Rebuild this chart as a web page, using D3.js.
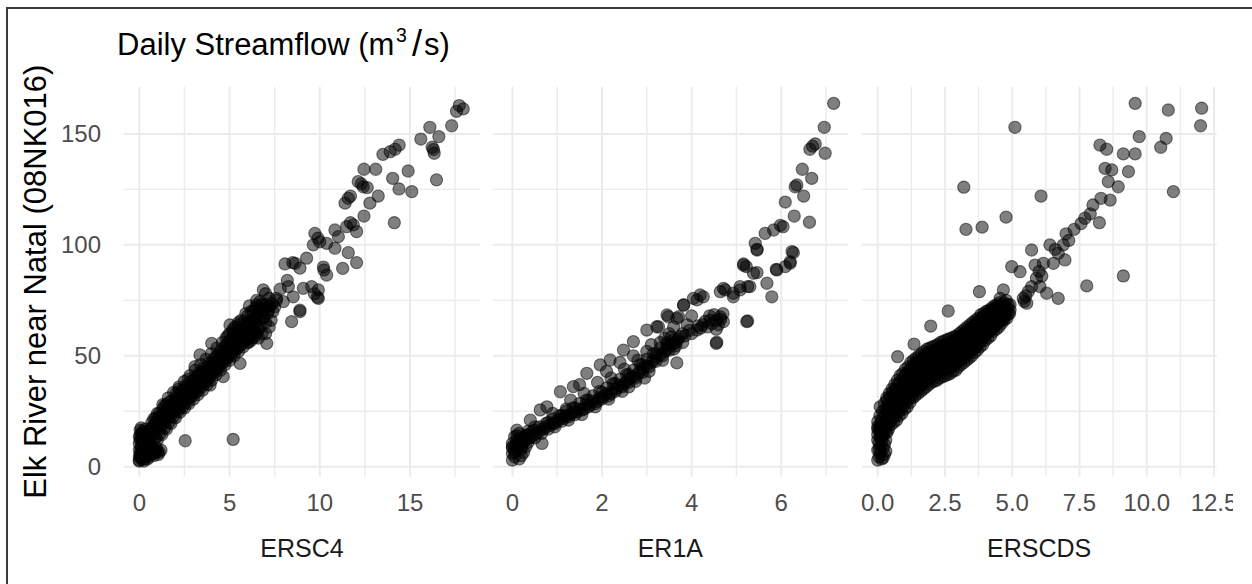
<!DOCTYPE html>
<html>
<head>
<meta charset="utf-8">
<script src="https://cdn.jsdelivr.net/npm/d3@7"></script>
<style>
  html, body { margin: 0; padding: 0; background: #fff; }
  svg { display: block; }
  text { font-family: "Liberation Sans", Arial, Helvetica, sans-serif; }
</style>
</head>
<body>
<svg id="chart" width="1252" height="584"></svg>
<script>
// Daily streamflow at three stations (x) vs. Elk River near Natal (y), m3/s
const ersc4 = [
  // low-flow cluster
  [0,3],[0,4.5],[0.05,6],[0,7.5],[0.1,9],[0,10.5],[0.05,12],[0,13.5],[0.1,15],[0.05,16.5],
  [0.15,4],[0.2,5.5],[0.2,7],[0.25,9],[0.2,11],[0.3,13],[0.25,15],[0.35,17],[0.4,5],[0.5,6],
  [0.6,5.5],[0.75,6],[0.9,6.5],[1.0,7],[0.45,8],[0.55,10],[0.4,12],[0.6,14],[0.5,16],[0.15,3.5],
  [0.3,3.5],[0.1,17.5],[0.7,8],[0.87,12.8],[1.1,6.5],[1.2,7.5],[0.95,8.5],
  [0.05,5],[0.1,8],[0.15,11],[0.05,14],[0.2,16],[0.3,5],[0.35,7],[0.4,10],[0.3,11],[0.45,14],
  [0.55,4.5],[0.65,7],[0.8,5],[0.85,7.5],[1.05,5.5],[0.25,2.5],[0,2.5],[0.1,4],[0.35,12],
  [0.15,13],[0.45,3.5],[0.6,9],
  // main band
  [0.6,12],[0.65,17],[0.7,20],[0.8,15],[0.85,19],[0.9,22],[1.0,16],[1.05,20],[1.1,24],
  [1.2,18],[1.25,22],[1.3,26],[1.4,20],[1.45,24],[1.5,28],[1.6,22],[1.7,26],[1.75,29.5],
  [1.85,24],[1.9,28],[2.0,31],[2.1,26],[2.15,29.5],[2.25,33],[2.35,28],[2.4,31.5],[2.5,35],
  [2.6,30],[2.65,33.5],[2.75,36.5],[2.85,32],[2.9,35.5],[3.0,39],[3.1,34],[3.15,37.5],[3.25,41],
  [3.35,36],[3.4,39.5],[3.5,43],[3.6,38],[3.65,41.5],[3.75,45],[3.85,40.5],[3.9,44],[4.0,47],
  [4.1,43],[4.15,46.5],[4.25,49.5],[4.35,45],[4.4,48.5],[4.5,52],[4.6,47],[4.65,50.5],[4.75,54],
  [4.85,49],[4.9,53],[5.0,56.5],[5.1,51],[5.15,55],[5.25,58.5],[5.35,53],[5.4,57],[5.5,60.5],
  [5.6,55],[5.7,59],[5.75,62.5],[5.85,57],[5.9,61],[6.0,64.5],[6.1,59],[6.2,63],[6.3,66],
  [6.4,61],[6.5,65],[6.55,68.5],[6.7,63],[6.8,67],[6.9,71],[7.0,65],[7.1,69],[7.2,72.5],
  [0.7,14],[0.75,18],[0.8,21.5],[0.95,17.5],[1.0,21],[1.15,19.5],[1.15,23],[1.3,21],[1.35,24.5],
  [1.4,27.5],[1.55,23],[1.55,26.5],[1.65,29],[1.75,24.5],[1.8,28],[1.95,26],[2.0,29.5],[2.05,33],
  [2.2,28],[2.3,31],[2.35,34.5],[2.45,30],[2.55,33],[2.6,36.5],[2.7,32],[2.8,35],[2.85,38.5],
  [2.95,34],[3.05,37],[3.1,40.5],[3.2,36],[3.3,39],[3.35,42.5],[3.45,38],[3.55,41],[3.6,44.5],
  [3.7,40],[3.8,43],[3.85,46.5],[3.95,42],[4.05,45],[4.1,48.5],[4.2,44],[4.3,47],[4.35,50.5],
  [4.45,46.5],[4.55,49.5],[4.6,53],[4.7,48.5],[4.8,52],[4.85,55.5],[4.95,51],[5.05,54],[5.1,57.5],
  [5.2,53],[5.3,56],[5.35,59.5],[5.45,55],[5.55,58],[5.6,61.5],[5.7,56.5],[5.8,60],[5.85,63.5],
  [5.95,59],[6.05,62],[6.15,65.5],[6.25,61],[6.35,64],[6.45,67.5],[6.6,66],[6.75,69.5],[6.9,67],
  [7.0,73],[7.15,70.5],[6.45,71.5],[6.7,74.5],[7.35,73.5],[7.5,72],[5.65,66],[5.3,63],[5.0,60],
  [6.05,56],[6.6,58],[7.2,63],
  [1.0,12],[1.25,14.5],[1.5,17],[1.75,19.5],[2.0,22],[2.25,24.5],[2.5,26.5],[2.75,28.5],
  [3.0,30.5],[3.25,32.5],[3.5,34.5],[3.75,37],[4.0,39],[4.25,41.5],[4.5,43.5],[4.75,46],
  [5.0,48],[5.25,50],[5.5,52],[5.75,54],[6.0,56],[6.25,58],[6.5,60],[0.9,13],[1.15,15],
  [1.4,17.5],[1.65,20],[1.9,22.5],[2.15,25],[2.4,27],[2.65,29],[2.9,31.5],[3.15,33.5],
  [3.4,35.5],[3.65,38],[3.9,40],[4.15,42.5],[4.4,44.5],[4.65,47],[4.9,49],[5.15,51],[5.4,53],
  [5.65,55],[5.9,57],[6.15,59],
  [1.0,24],[1.3,28],[1.6,31],[1.9,33.5],[2.2,36],[2.5,38.5],[2.8,41],[3.1,43.5],[3.4,46],
  [3.7,48.5],[4.0,51],[4.3,53.5],[4.6,56],[4.9,59],[5.2,62],[5.5,65],
  [6.3,70],[6.6,72],[6.0,68],[5.8,65.5],[5.5,64],[5.2,61],[4.8,58],[6.8,60],[6.2,57],[7.4,70],
  [7.6,75],[7.3,66],[6.2,70],[6.5,75],[6.8,73],[7.2,76],[6.1,72.5],[6.6,62],[7.0,60],[6.4,58.5],
  [5.9,69],[5.58,46.6],[4.65,40.6],[3.92,36.8],[7.06,55.6],[5.02,63.9],[4.01,55.6],[3.36,50.4],
  [3.08,45.1],[2.54,11.7],[5.2,12.3],[2.7,39.5],[2.2,35],
  // high flows
  [17.73,162.8],[17.95,161.3],[17.58,160.2],[17.31,153.7],[16.1,153],[16.6,148.8],[15.6,147.7],
  [16.23,144],[16.34,141.3],[16.3,143],[16.47,129.3],[14.4,145],[14.17,143.1],[13.5,140.8],
  [13.9,142],[14.9,133.3],[14.04,130],[14.39,125.2],[15.1,124],[14.13,110],[12.45,134.1],
  [13.1,134.1],[12.13,128.5],[12.41,126.2],[12.63,125.8],[12.3,127.5],[13.24,122],[12.78,118.8],
  [11.58,121],[11.4,118.8],[11.7,122],[12.45,113],[11.86,109],[11.49,108.2],[10.84,106.7],
  [11.03,103.7],[12.04,106],[11.7,110],[9.73,105.2],[9.64,100],[10.0,101.4],[10.38,100.7],
  [10.84,98.5],[9.9,103],[11.58,96.5],[12.04,92],[11.27,89.4],[10.23,88.7],[10.38,86.4],
  [10.2,90],[9.27,94],[8.63,91.7],[8.07,91.4],[8.9,89.5],[8.5,92],[9.09,80.4],[9.55,81.2],
  [9.92,79.7],[9.92,75.9],[9.7,78],[8.26,81.2],[8.53,76.6],[8.9,70.6],[8.44,65.4],[8.9,69.9],
  [9.87,76.4],[6.87,79.7],[7.6,75.9],[7.98,74.4],[7.24,72.1],[6.68,70.6],[6.32,66.1],[7.0,78],
  [6.5,73],[7.8,80],[8.2,84]
];

const er1a = [
  // low-flow cluster
  [0,3],[0.05,4.5],[0,6],[0.1,7.5],[0.05,9],[0,10.5],[0.1,12],[0.05,13.5],[0.15,15],[0.1,16.5],
  [0.2,5],[0.2,8],[0.25,11],[0.3,14],[0.2,13],[0.15,3.5],[0.3,9],[0,9],[0,8.5],[0.35,16],
  [0.4,13.5],[0.66,10.5],[0.05,6.5],[0.15,10],[0.1,14],[0.25,6.5],
  // lower band
  [0.25,11.3],[0.54,15.1],[0.84,18.8],[1.14,21.8],[1.44,24.8],[1.73,27.8],[2.03,31.6],
  [2.33,35.3],[2.63,39.9],[2.92,44.4],[3.22,49.6],[3.52,54.9],[3.74,58.6],
  [0.4,13],[0.7,17],[1.0,20.5],[1.3,23.5],[1.6,26],[1.9,29.5],[2.2,33],[2.5,37.5],[2.8,42],
  [3.1,47],[3.4,52],[3.65,56],[0.5,16.5],[0.8,20],[1.1,23],[1.4,26.5],[1.7,30],[2.0,33.5],
  [2.3,37.5],[2.6,41.5],[2.9,46],[3.2,51],[3.45,55],[3.6,57],[0.35,14.5],[0.95,18],[1.25,21],
  [1.55,23.5],[1.85,27],[2.15,30.5],[2.45,34],[2.75,38.5],[3.05,43],[3.35,48],[3.6,53],
  [0.1,9.5],[0.2,11],[0.3,12.5],[0.45,14],[0.6,16],[0.75,18],[0.9,19.5],[1.05,21.5],[1.2,23],
  [1.35,24.5],[1.5,26],[1.65,28],[1.8,29.5],[1.95,31],[2.1,33],[2.25,35],[2.4,36.5],[2.55,38.5],
  [2.7,40.5],[2.85,43],[3.0,45.5],[3.15,48],[3.3,50.5],[3.45,53],[3.6,55.5],[3.7,57.5],
  [0.15,12],[0.3,14],[0.45,16],[0.6,18],[0.75,19.5],[0.9,21.5],[1.05,23],[1.2,25],[1.35,26.5],
  [1.5,28.5],[1.65,30],[1.8,32],[1.95,34],[2.1,35.5],[2.25,37.5],[2.4,39.5],[2.55,41.5],
  [2.7,43.5],[2.85,46],[3.0,48.5],[3.15,51],[3.3,53.5],[3.45,56],[3.55,58.5],
  [0.2,9],[0.35,11],[0.5,13],[0.65,15],[0.8,17],[0.95,19.5],[1.1,20.5],[1.25,22.5],[1.4,23.5],
  [1.55,25.5],[1.7,27],[1.85,28.5],[2.0,30.5],[2.15,32],[2.3,34],[2.45,36],[2.6,38],[2.75,40],
  [2.9,42.5],[3.05,45],[3.2,47.5],[3.35,50],[3.5,52.5],[3.65,54.5],
  [4.12,61.6],[4.41,66.1],[4.64,67.6],[4.71,65.4],[4.35,63],[4.5,68.5],[4.6,64],[4.3,65.5],
  [4.2,62.5],[4.55,62],[4.0,60],[3.85,59],[4.25,64],[4.45,64.5],[4.65,66.5],[4.4,68],
  [4.55,66],[4.15,63.5],[3.95,61.5],[3.8,60],[4.7,69],
  // upper band
  [1.07,33.8],[1.36,36.1],[1.66,42.1],[1.96,45.9],[2.18,48.1],[2.48,52.6],[2.7,56.4],
  [3.0,61.6],[3.22,63.1],[3.45,68.4],[3.71,67.6],[3.82,72.9],[4.12,75.2],[4.26,76.6],
  [4.71,80.4],[4.93,78.2],[5.08,81.2],[0.77,27],[0.62,25.6],[0.4,21],
  [1.3,30],[1.6,33],[1.9,38],[2.2,40],[2.5,44],[2.8,48],[3.0,52],[3.3,56],[3.5,60],
  [2.1,43],[2.4,47],[2.7,50],[3.1,55],[3.4,58],[1.5,37],[1.2,26],[0.9,24],[0.5,18],
  [3.9,64],[4.0,68],[3.6,63],[2.95,40],[3.8,56],[2.6,36],
  // high flows
  [7.17,163.8],[6.96,153],[6.76,145.5],[6.64,143.1],[6.7,144.5],[6.98,141.3],[6.47,134.1],
  [6.68,130],[6.31,126.2],[6.35,127],[6.5,122],[6.09,119.3],[6.29,113],[6.63,110.2],
  [6.04,108.2],[5.98,108.8],[5.83,106.7],[5.64,105.2],[5.42,100.7],[5.46,98],[6.24,97],
  [6.2,92.4],[6.09,90.2],[5.89,89],[5.16,91.4],[5.22,90.2],[5.46,87.5],[5.68,82.7],[5.79,76.6],
  [5.25,81.2],[5.08,79.7],[4.93,76.6],[4.75,79.7],[4.64,78.9],[5.25,65.7],[4.56,56.1],
  [4.19,77.4],[4.04,75.9],[3.82,72.9],[3.67,66.9],[3.48,67.6],[3.26,63.1],[3.67,46.8],
  [4.55,55.6],[5.23,65.4],[5.9,88.7],[6.2,91.7],[6.27,96.5],[5.46,97.7],[5.16,90.8],
  [5.38,87.2],[5.3,81.2]
];

const erscds = [
  // low-flow cluster
  [0,3],[0.05,4.5],[0.1,6],[0,7.5],[0.1,9],[0.05,10.5],[0,12],[0.1,13.5],[0.15,15],[0.05,16.5],
  [0.2,4],[0.25,5.5],[0.3,7],[0.2,8.5],[0.25,10],[0.3,12],[0.2,14],[0,18],[0.1,19.5],[0,17],
  [0.15,3.5],[0.35,15.5],[0.3,18],[0,20.3],[0.09,27],[0.05,8],[0.15,11.5],[0.1,17],[0,14.5],
  // main band
  [0.1,13],[0.12,18],[0.08,23],[0.2,14],[0.22,19.5],[0.18,25],[0.3,16],[0.32,21],[0.28,26],
  [0.33,31],[0.4,17],[0.42,23],[0.38,28],[0.43,33],[0.5,19],[0.52,25],[0.48,30],[0.53,35],
  [0.6,20],[0.62,26],[0.58,32],[0.63,37],[0.7,21],[0.72,27],[0.68,33],[0.73,39],[0.8,23],
  [0.82,29],[0.78,35],[0.83,41],[0.9,24],[0.92,30],[0.88,36],[0.93,42],[1.0,26],[1.02,32],
  [0.98,38],[1.03,44],[1.1,27],[1.12,33],[1.08,39],[1.13,45],[1.2,29],[1.22,35],[1.18,41],
  [1.23,47],[1.3,31],[1.32,37],[1.28,43],[1.33,48],[1.4,32],[1.42,38],[1.38,44],[1.43,49],
  [1.5,33],[1.52,39],[1.48,45],[1.53,50],[1.6,34],[1.62,40],[1.58,46],[1.63,51],[1.7,35],
  [1.72,41],[1.68,47],[1.73,52],[1.8,36],[1.82,42],[1.78,48],[1.83,53],[1.9,37],[1.92,43],
  [1.88,48.5],[1.93,53.5],[2.0,38],[2.02,43.5],[1.98,49],[2.03,54],[2.1,38.5],[2.12,44],
  [2.08,49.5],[2.13,54.5],[2.2,39],[2.22,44.5],[2.18,50],[2.23,55],[2.3,40],[2.32,45.5],
  [2.28,51],[2.33,56],[2.4,40.5],[2.42,46],[2.38,51.5],[2.43,56.5],[2.5,41],[2.52,46.5],
  [2.48,52],[2.53,57],[2.6,41.5],[2.62,47],[2.58,52.5],[2.63,57.5],[2.7,42],[2.72,47.5],
  [2.68,53],[2.73,58],[2.8,43],[2.82,48],[2.78,53.5],[2.83,58.5],[2.9,43.5],[2.92,49],
  [2.88,54.5],[2.93,59],[3.0,45],[3.02,50],[2.98,55],[3.03,60],[3.1,46],[3.12,51],[3.08,56],
  [3.13,61],[3.2,47],[3.22,52],[3.18,57],[3.23,62],[3.3,48],[3.32,53],[3.28,58],[3.33,63],
  [3.4,49],[3.42,54],[3.38,59],[3.43,64],[3.5,50],[3.52,55],[3.48,60],[3.53,65],[3.6,51.5],
  [3.62,56.5],[3.58,61.5],[3.63,66],[3.7,52.5],[3.72,57.5],[3.68,62.5],[3.73,67],[3.8,54],
  [3.82,59],[3.78,64],[3.83,68.5],[3.9,55],[3.92,60],[3.88,65],[3.93,69],[4.0,57],[4.02,61.5],
  [3.98,66],[4.03,70],[4.1,58],[4.12,62.5],[4.08,67],[4.13,70.5],[4.2,59],[4.22,63.5],
  [4.18,68],[4.23,71.5],[4.3,61],[4.32,65],[4.28,69],[4.33,72.5],[4.4,62],[4.42,66],[4.38,70],
  [4.43,73],[4.5,63],[4.52,67],[4.48,71],[4.53,74],[4.6,64.5],[4.62,68.5],[4.58,72.5],
  [4.7,66],[4.72,70],[4.68,74],[4.8,67],[4.82,71],[4.78,75],[4.9,69],[4.92,73],
  [0.15,16],[0.15,21.5],[0.25,17.5],[0.25,23],[0.25,28.5],[0.35,19],[0.35,25],[0.35,30],
  [0.45,20],[0.45,26],[0.45,31.5],[0.55,22],[0.55,28],[0.55,33.5],[0.65,23],[0.65,29.5],
  [0.65,35],[0.75,24.5],[0.75,31],[0.75,37],[0.85,26],[0.85,32.5],[0.85,38.5],[0.95,27.5],
  [0.95,34],[0.95,40],[1.05,29],[1.05,35.5],[1.05,41.5],[1.15,30.5],[1.15,37],[1.15,43],
  [1.25,32],[1.25,38.5],[1.25,44.5],[1.35,34],[1.35,40.5],[1.35,46],[1.45,35],[1.45,41.5],
  [1.45,47],[1.55,36],[1.55,42.5],[1.55,48],[1.65,37],[1.65,43.5],[1.65,49],[1.75,38],
  [1.75,44.5],[1.75,50],[1.85,39],[1.85,45],[1.85,51],[1.95,40],[1.95,46],[1.95,51.5],
  [2.05,41],[2.05,46.5],[2.05,52],[2.15,41.5],[2.15,47],[2.15,52.5],[2.25,42],[2.25,47.5],
  [2.25,53],[2.35,43],[2.35,48.5],[2.35,54],[2.45,43.5],[2.45,49],[2.45,54.5],[2.55,44],
  [2.55,49.5],[2.55,55],[2.65,44.5],[2.65,50],[2.65,55.5],[2.75,45],[2.75,50.5],[2.75,56],
  [2.85,46],[2.85,51],[2.85,56.5],[2.95,47],[2.95,52],[2.95,57.5],[3.05,48],[3.05,53],
  [3.05,58.5],[3.15,49],[3.15,54],[3.15,59.5],[3.25,50],[3.25,55],[3.25,60.5],[3.35,51],
  [3.35,56],[3.35,61.5],[3.45,52],[3.45,57],[3.45,62.5],[3.55,53],[3.55,58],[3.55,63.5],
  [3.65,54],[3.65,59],[3.65,64.5],[3.75,55.5],[3.75,60.5],[3.75,65.5],[3.85,57],[3.85,62],
  [3.85,67],[3.95,58.5],[3.95,63.5],[3.95,68],[4.05,60],[4.05,64.5],[4.05,68.5],[4.15,61],
  [4.15,65.5],[4.15,69.5],[4.25,62],[4.25,66.5],[4.25,70.5],[4.35,63.5],[4.35,67.5],
  [4.35,71.5],[4.45,64.5],[4.45,68.5],[4.45,72],[4.55,65.5],[4.55,69.5],[4.65,66.5],
  [4.65,71],[4.75,68],[4.75,72.5],[4.85,69],[4.85,73],
  // scattered above and beyond the band
  [0.74,49.6],[1.35,55.3],[1.97,63.4],[2.62,70.2],[3.78,78.9],[4.67,79.7],[4.55,75.9],
  [4.92,70.6],[5.5,77],[5.6,79],[5.45,74.5],[5.54,73.7],[5.41,75.9],[5.72,81.2],[6.03,81.2],
  [6.28,78.2],[6.71,75.9],[5.9,85],[6.0,88],[6.1,86],[4.98,90.2],[5.29,87.9],[5.85,90.9],
  [6.16,91.7],[6.53,91.7],[5.72,97.7],[6.71,96.2],[6.96,93.2],[7.77,81.5],[9.13,86],
  [6.6,98],[6.4,100],[6.9,100],[7.0,105],[7.1,102],[7.3,107],[7.56,109.6],[7.7,112],[8.24,110],
  [7.9,114],[8.0,118],[8.3,121],[6.07,122],[3.28,107],[3.88,108],[4.77,112.5],[3.2,126],
  [5.1,153],[8.64,120.2],[8.94,126.2],[8.57,128.5],[8.7,133.8],[8.45,134.5],[8.51,143.1],
  [8.26,145],[9.13,141],[9.57,141],[9.32,133],[9.72,148.8],[10.52,144],[10.72,148],
  [10.99,124],[9.57,163.8],[10.8,160.8],[12.04,161.6],[12.0,153.7]
];

const seriesData = [ersc4, er1a, erscds];
const panelNames = ["ERSC4", "ER1A", "ERSCDS"];
const xDomains = [[-0.85, 18.88], [-0.44, 7.49], [-0.595, 12.6]];
const xTicks = [[0, 5, 10, 15], [0, 2, 4, 6], [0, 2.5, 5, 7.5, 10, 12.5]];
const xTickLabels = [["0", "5", "10", "15"], ["0", "2", "4", "6"], ["0.0", "2.5", "5.0", "7.5", "10.0", "12.5"]];
const xMinor = [[2.5, 7.5, 12.5, 17.5], [1, 3, 5, 7], [1.25, 3.75, 6.25, 8.75, 11.25]];
const yDomain = [-4.5, 171.3];
const yTicks = [0, 50, 100, 150];
const yMinor = [25, 75, 125];
const yTitle = "Elk River near Natal (08NK016)";

const svg = d3.select("#chart");
const W = 1252, H = 584;
svg.append("rect").attr("width", W).attr("height", H).attr("fill", "#fff");

const panelX = [[124, 480], [492.7, 848], [861.7, 1216.7]];
const plotTop = 86.7, plotBottom = 476.7;

const y = d3.scaleLinear().domain(yDomain).range([plotBottom, plotTop]);
const gridCol = "#ebebeb";

seriesData.forEach((pts, i) => {
  const x = d3.scaleLinear().domain(xDomains[i]).range(panelX[i]);
  const g = svg.append("g");

  // minor then major grid
  g.selectAll(".ymin").data(yMinor).join("line")
    .attr("x1", panelX[i][0]).attr("x2", panelX[i][1])
    .attr("y1", d => y(d)).attr("y2", d => y(d))
    .attr("stroke", gridCol).attr("stroke-width", 1.4);
  g.selectAll(".xmin").data(xMinor[i]).join("line")
    .attr("x1", d => x(d)).attr("x2", d => x(d))
    .attr("y1", plotTop).attr("y2", plotBottom)
    .attr("stroke", gridCol).attr("stroke-width", 1.4);
  g.selectAll(".ymaj").data(yTicks).join("line")
    .attr("x1", panelX[i][0]).attr("x2", panelX[i][1])
    .attr("y1", d => y(d)).attr("y2", d => y(d))
    .attr("stroke", gridCol).attr("stroke-width", 2);
  g.selectAll(".xmaj").data(xTicks[i]).join("line")
    .attr("x1", d => x(d)).attr("x2", d => x(d))
    .attr("y1", plotTop).attr("y2", plotBottom)
    .attr("stroke", gridCol).attr("stroke-width", 2);

  // points
  g.selectAll("circle").data(pts).join("circle")
    .attr("cx", d => x(d[0])).attr("cy", d => y(d[1]))
    .attr("r", 6.1)
    .attr("fill", "#000").attr("fill-opacity", 0.5)
    .attr("stroke", "#000").attr("stroke-opacity", 0.5).attr("stroke-width", 1.1);

  // x tick labels
  g.selectAll(".xt").data(xTicks[i]).join("text")
    .attr("x", d => x(d)).attr("y", 511)
    .attr("text-anchor", "middle")
    .attr("font-size", 24).attr("fill", "#4d4d4d")
    .text((d, j) => xTickLabels[i][j]);

  // x axis title
  g.append("text")
    .attr("x", (panelX[i][0] + panelX[i][1]) / 2).attr("y", 557)
    .attr("text-anchor", "middle")
    .attr("font-size", 25).attr("fill", "#1a1a1a")
    .text(panelNames[i]);
});

// y tick labels
svg.selectAll(".yt").data(yTicks).join("text")
  .attr("x", 101).attr("y", d => y(d) + 8.5)
  .attr("text-anchor", "end")
  .attr("font-size", 24).attr("fill", "#4d4d4d")
  .text(d => d);

// y axis title
svg.append("text")
  .attr("transform", `translate(46, ${(plotTop + plotBottom) / 2}) rotate(-90)`)
  .attr("text-anchor", "middle")
  .attr("font-size", 31).attr("fill", "#000")
  .text(yTitle);

// title: Daily Streamflow (m^3/s)
const t = svg.append("text").attr("y", 55).attr("font-size", 31).attr("fill", "#000");
t.append("tspan").attr("x", 117).text("Daily Streamflow (m");
t.append("tspan").attr("x", 396).attr("y", 42).attr("font-size", 19.5).text("3");
t.append("tspan").attr("x", 412).attr("y", 56).attr("font-size", 36).text("/");
t.append("tspan").attr("x", 424).attr("y", 55).text("s)");

// image edge on the right, and frame
svg.append("rect").attr("x", 1233).attr("y", 0).attr("width", 30).attr("height", H).attr("fill", "#fff");
svg.append("rect").attr("x", 7).attr("y", 8).attr("width", 1300).attr("height", 700)
  .attr("fill", "none").attr("stroke", "#3a3a3a").attr("stroke-width", 2);
</script>
</body>
</html>
